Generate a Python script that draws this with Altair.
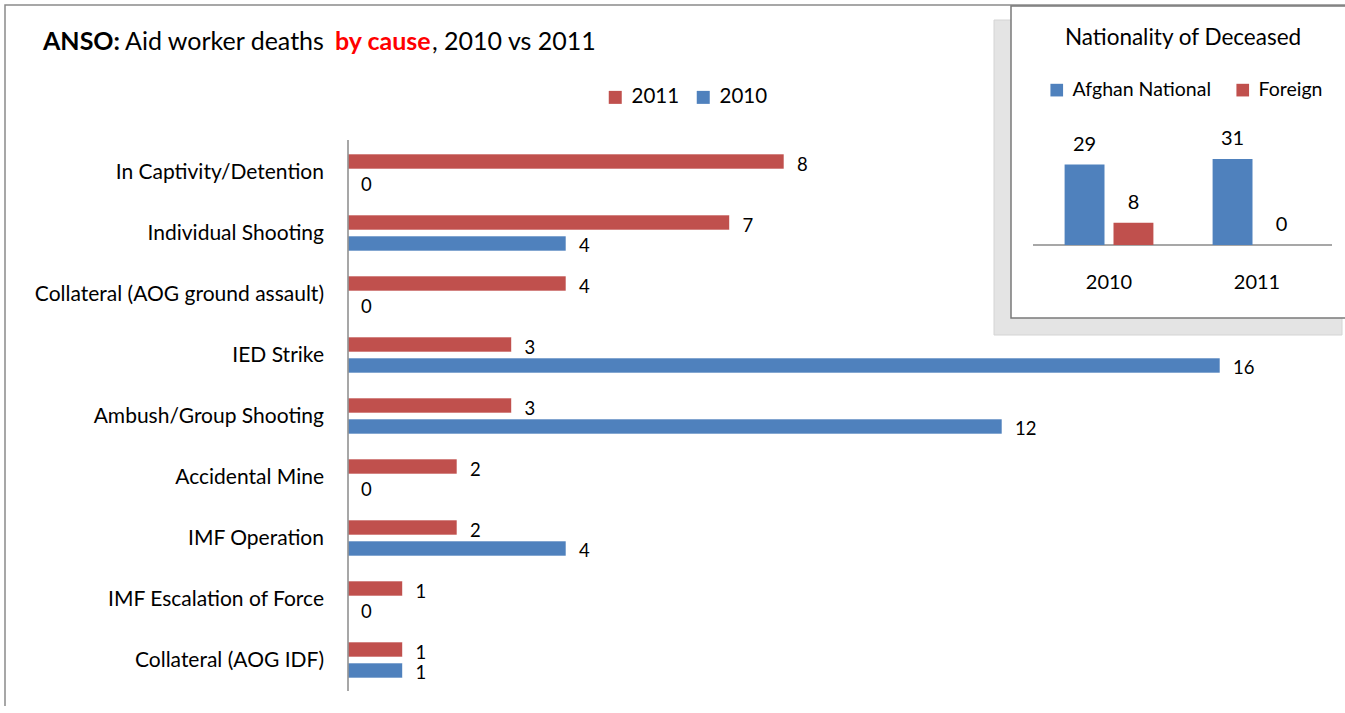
import altair as alt
import pandas as pd

# ---------------- data ----------------
causes = [
    "In Captivity/Detention",
    "Individual Shooting ",
    "Collateral (AOG ground assault)",
    "IED Strike",
    "Ambush/Group Shooting",
    "Accidental Mine",
    "IMF Operation",
    "IMF Escalation  of Force",
    "Collateral (AOG IDF)",
]
deaths_2011 = [8, 7, 4, 3, 3, 2, 2, 1, 1]
deaths_2010 = [0, 4, 0, 16, 12, 0, 4, 0, 1]
years_main = ["2011", "2010"]

inset_years = ["2010", "2011"]
nationalities = ["Afghan National", "Foreign"]
afghan = [29, 31]
foreign = [8, 0]

RED = "#C0504D"
BLUE = "#4F81BD"
FONT = "Lato"
GRAY = "#8a8a8a"

main_df = pd.DataFrame(
    [{"cause": c, "year": "2011", "deaths": v} for c, v in zip(causes, deaths_2011)]
    + [{"cause": c, "year": "2010", "deaths": v} for c, v in zip(causes, deaths_2010)]
)
inset_df = pd.DataFrame(
    [{"year": y, "nat": "Afghan National", "n": v} for y, v in zip(inset_years, afghan)]
    + [{"year": y, "nat": "Foreign", "n": v} for y, v in zip(inset_years, foreign)]
)
one = alt.Data(values=[{}])

# ---------------- decorations ----------------
outer = alt.Chart(one).mark_rect(fill="white", stroke=GRAY, strokeWidth=1.5).encode(
    x=alt.value(5), x2=alt.value(1500), y=alt.value(5), y2=alt.value(900)
)
shadow = alt.Chart(one).mark_rect(fill="#e4e4e4", stroke="#d4d4d4").encode(
    x=alt.value(994), x2=alt.value(1342), y=alt.value(20), y2=alt.value(335)
)
box = alt.Chart(one).mark_rect(fill="white", stroke="#7a7a7a", strokeWidth=1.5).encode(
    x=alt.value(1011), x2=alt.value(1500), y=alt.value(6), y2=alt.value(318)
)

# title pieces
def ttext(txt, x, bold=False, color="black"):
    return alt.Chart(one).mark_text(
        text=txt, font=FONT, fontSize=25, fontWeight="bold" if bold else "normal",
        color=color, align="left", baseline="middle"
    ).encode(x=alt.value(x), y=alt.value(42))

title = alt.layer(
    ttext("ANSO:", 43, bold=True),
    ttext("Aid worker deaths", 125),
    ttext("by cause", 335, bold=True, color="#FF0000"),
    ttext(", 2010 vs 2011", 432),
)

# ---------------- main chart ----------------
yscale = alt.Scale(domain=causes, range=[141.5, 690.5], paddingInner=0.41, paddingOuter=0.205)
xscale = alt.Scale(domain=[0, 16], range=[348, 1220], nice=False, zero=True)
yoff = alt.YOffset("year:N", scale=alt.Scale(domain=years_main, paddingInner=0.2857, paddingOuter=0))

base = alt.Chart(main_df)
bars = base.mark_bar(stroke="white", strokeWidth=0.6).encode(
    y=alt.Y("cause:N", scale=yscale, axis=None),
    yOffset=yoff,
    x=alt.X("deaths:Q", scale=xscale, axis=None),
    color=alt.Color(
        "year:N",
        scale=alt.Scale(domain=years_main, range=[RED, BLUE]),
        legend=alt.Legend(
            orient="none", legendX=605, legendY=87, direction="horizontal", title=None,
            symbolType="square", symbolSize=169, symbolStrokeWidth=0, symbolOpacity=1,
            labelFont=FONT, labelFontSize=20.5, labelColor="black", labelOffset=6,
            columnPadding=13,
        ),
    ),
)
vals = base.mark_text(font=FONT, fontSize=18.5, align="left", baseline="middle", dx=13, dy=3, color="black").encode(
    y=alt.Y("cause:N", scale=yscale, axis=None),
    yOffset=yoff,
    x=alt.X("deaths:Q", scale=xscale, axis=None),
    text="deaths:Q",
)
cats = base.transform_filter(alt.datum.year == "2011").mark_text(
    font=FONT, fontSize=21, align="right", baseline="middle", dy=1, color="black"
).encode(
    y=alt.Y("cause:N", scale=yscale, axis=None),
    x=alt.value(324),
    text="cause:N",
)
axis_line = alt.Chart(one).mark_rule(color=GRAY, strokeWidth=1.5).encode(
    x=alt.X(datum=0, type="quantitative", scale=xscale, axis=None),
    y=alt.value(140), y2=alt.value(691),
)
main = alt.layer(bars, vals, cats, axis_line)

# ---------------- inset chart ----------------
ix = alt.X("year:N", scale=alt.Scale(domain=inset_years, range=[1035, 1331], paddingInner=0.4, paddingOuter=0.2), axis=None)
ixo = alt.XOffset("nat:N", scale=alt.Scale(domain=nationalities, paddingInner=0.184, paddingOuter=0))
iyscale = alt.Scale(domain=[0, 31], range=[245, 159], nice=False, zero=True)

ibase = alt.Chart(inset_df)
ibars = ibase.mark_bar().encode(
    x=ix, xOffset=ixo,
    y=alt.Y("n:Q", scale=iyscale, axis=None),
    color=alt.Color(
        "nat:N",
        scale=alt.Scale(domain=nationalities, range=[BLUE, RED]),
        legend=alt.Legend(
            orient="none", legendX=1047, legendY=80, direction="horizontal", title=None,
            symbolType="square", symbolSize=160, symbolStrokeWidth=0, symbolOpacity=1,
            labelFont=FONT, labelFontSize=19.5, labelColor="black", labelOffset=6,
            columnPadding=22,
        ),
    ),
)
ivals = ibase.mark_text(font=FONT, fontSize=20, baseline="middle", dy=-20, color="black").encode(
    x=ix, xOffset=ixo,
    y=alt.Y("n:Q", scale=iyscale, axis=None),
    text="n:Q",
)
iyears = ibase.transform_filter(alt.datum.nat == "Afghan National").mark_text(
    font=FONT, fontSize=20, baseline="middle", color="black"
).encode(x=ix, y=alt.value(283), text="year:N")
ibaseline = alt.Chart(one).mark_rule(color=GRAY, strokeWidth=1.5).encode(
    y=alt.Y(datum=0, type="quantitative", scale=iyscale, axis=None),
    x=alt.value(1033), x2=alt.value(1332),
)
ititle = alt.Chart(one).mark_text(
    text="Nationality of Deceased", font=FONT, fontSize=22.5, align="center", baseline="middle", color="black"
).encode(x=alt.value(1183), y=alt.value(38))

inset = alt.layer(ibaseline, ibars, ivals, iyears)

chart = alt.layer(outer, shadow, box, title, main, inset, ititle).resolve_scale(
    x="independent", y="independent", color="independent"
).properties(
    width=1345, height=706, padding=0, autosize=alt.AutoSizeParams(type="none"),
    background="white",
).configure_view(stroke=None)

chart.save("out.html", embed_options={"renderer": "svg", "actions": False})
